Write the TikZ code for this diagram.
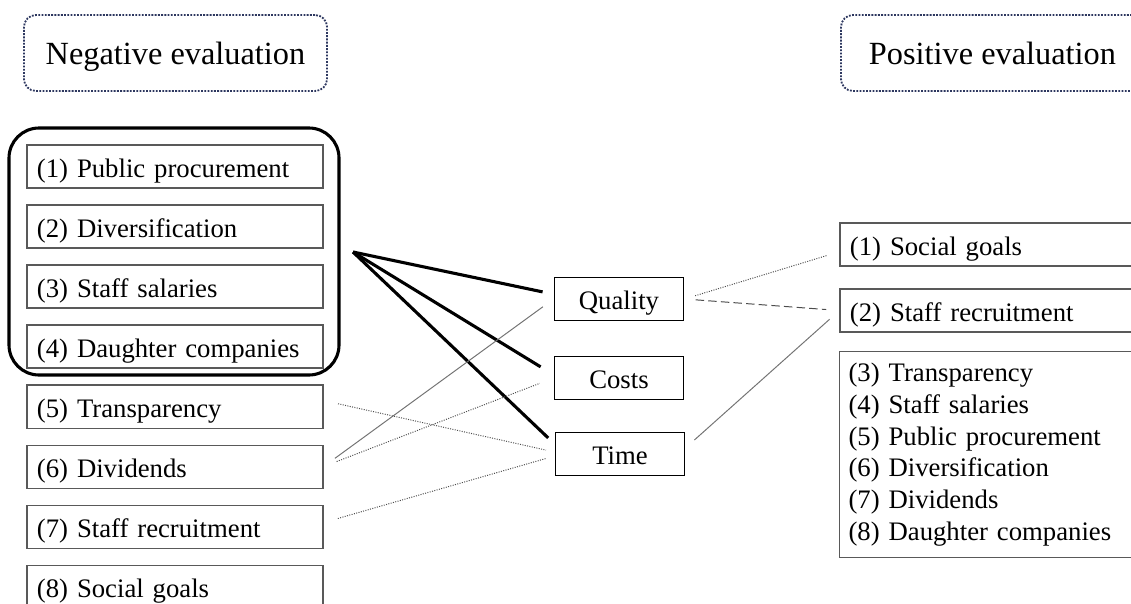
\documentclass[tikz,border=0pt]{standalone}
\usepackage{fontspec}
\setmainfont{Liberation Serif}
\usetikzlibrary{positioning}
\definecolor{dotblue}{RGB}{45,55,95}
\tikzset{
    node distance=1.5cm,
    header/.style={draw=dotblue, densely dotted, line width=1.3pt, rounded corners=0.3cm,
        minimum width=7.575cm, minimum height=1.9cm, text height=0.7cm, text depth=0.15cm,
        font=\fontsize{23}{27}\selectfont},
    box/.style={draw=black!65, line width=0.8pt, minimum width=7.4cm, minimum height=1.075cm,
        text width=6.9cm, inner xsep=0.25cm, align=left, font=\fontsize{19}{22.7}\selectfont},
    item/.style={box, text height=0.6cm, text depth=0.075cm},
    factor/.style={draw, line width=1.3pt, minimum width=3.225cm, minimum height=1.075cm,
        text height=0.6cm, text depth=0.075cm, font=\fontsize{19}{22.7}\selectfont},
    strong/.style={line width=2.2pt},
    weak/.style={line width=0.7pt, black!70},
    dotlink/.style={weak, densely dotted},
    dashlink/.style={weak, dash pattern=on 6pt off 3pt}}

\begin{document}
\begin{tikzpicture}[x=0.025cm, y=-0.025cm]
\clip (0,0) rectangle (1131,604);

\node[header] (neg) at (175.5,53)  {Negative evaluation};
\node[header] (pos) at (992.5,53)  {Positive evaluation};

% negative side
\node[item] (n1) at (175,166.5) {(1) Public procurement};
\node[item] (n2) [below of=n1]  {(2) Diversification};
\node[item] (n3) [below of=n2]  {(3) Staff salaries};
\node[item] (n4) [below of=n3]  {(4) Daughter companies};
\node[item] (n5) [below of=n4]  {(5) Transparency};
\node[item] (n6) [below of=n5]  {(6) Dividends};
\node[item] (n7) [below of=n6]  {(7) Staff recruitment};
\node[item] (n8) [below of=n7]  {(8) Social goals};
\draw[strong, rounded corners=0.75cm] (9,128) rectangle (339,375);
\coordinate (hub) at (353,252);

% factors
\node[factor] (quality) at (619,299) {Quality};
\node[factor] (costs)   at (619,378) {Costs};
\node[factor] (time)    at (620,454) {Time};

% positive side
\node[item, minimum width=7.5cm, text width=7cm] (p1) at (990,244.5) {(1) Social goals};
\node[item, minimum width=7.5cm, text width=7cm] (p2) [below of=p1, node distance=1.65cm] {(2) Staff recruitment};
\node[box, anchor=north west, minimum width=7.5cm, text width=7.05cm, inner xsep=0.2cm,
    minimum height=5.15cm] (prest) at (839,351)
    {(3) Transparency\\(4) Staff salaries\\(5) Public procurement\\(6) Diversification\\(7) Dividends\\(8) Daughter companies};

\path[]
	(hub)	edge	[strong, shorten >=0.28cm]	([yshift=0.12cm]quality.west)
	(hub)	edge	[strong, shorten >=0.38cm]	([yshift=0.08cm]costs.west)
	(hub)	edge	[strong, shorten >=0.22cm]	([yshift=0.25cm]time.west)
	(n6.east)	edge	[weak, black!55, shorten <=0.35cm, shorten >=0.33cm]	(quality.west)
	(n6.east)	edge	[dotlink, shorten <=0.35cm, shorten >=0.37cm]	(costs.west)
	([yshift=0.15cm]n5.east)	edge	[dotlink, shorten <=0.37cm, shorten >=0.22cm]	([yshift=0.05cm]time.west)
	([yshift=0.1cm]n7.east)	edge	[dotlink, shorten <=0.37cm, shorten >=0.22cm]	([yshift=-0.05cm]time.west)
	(quality.east)	edge	[dotlink, shorten <=0.28cm, shorten >=0.33cm]	([yshift=-0.18cm]p1.west)
	(quality.east)	edge	[dashlink, shorten <=0.28cm, shorten >=0.33cm]	(p2.west)
	([yshift=0.15cm]time.east)	edge	[weak, black!55, shorten <=0.3cm, shorten >=0.33cm]	(p2.west);
\end{tikzpicture}
\end{document}
